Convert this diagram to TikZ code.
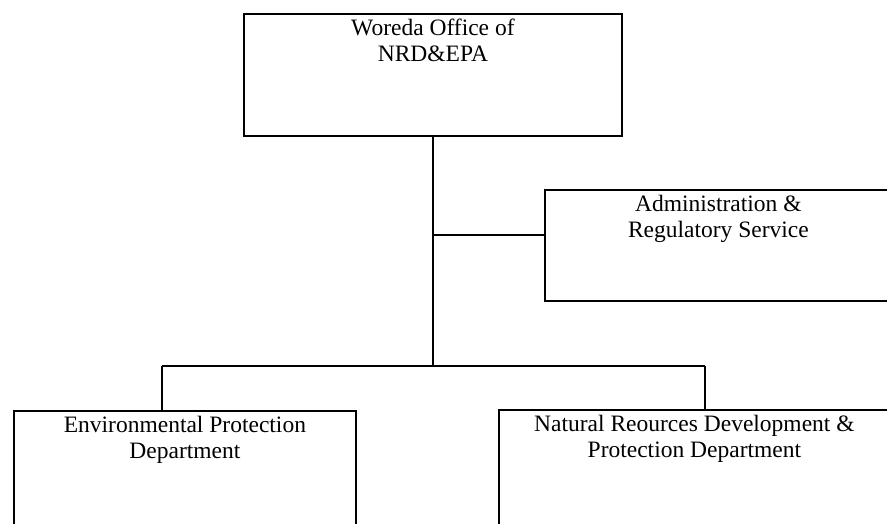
\documentclass[tikz,border=0pt]{standalone}
\usepackage{fontspec}
\setmainfont{Liberation Serif}
\begin{document}
\begin{tikzpicture}[x=1pt,y=-1pt,
  unit/.style={draw=black, line width=1.8pt, inner sep=0pt, anchor=north west},
  caption/.style={anchor=north, align=center, inner sep=6pt,
    font=\fontsize{23.5}{26}\selectfont},
  link/.style={draw=black, line width=1.8pt}]
\useasboundingbox (0,0) rectangle (887,523);
\clip (0,0) rectangle (887,523);
\fill[white] (0,0) rectangle (887,523);

% boxes
\node[unit, minimum width=378pt, minimum height=122pt] (office) at (243,13) {};
\node[unit, minimum width=347pt, minimum height=111pt] (admin) at (544,189) {};
\node[unit, minimum width=342pt, minimum height=140pt] (envdep) at (13,410) {};
\node[unit, minimum width=391pt, minimum height=140pt] (nrdep) at (498,409) {};

% box titles
\node[caption] (officeT) at (office.north) {Woreda Office of\\NRD\&EPA};
\node[caption] (adminT) at (admin.north) {Administration \&\\Regulatory Service};
\node[caption] (envdepT) at (envdep.north) {Environmental Protection\\Department};
\node[caption] (nrdepT) at (nrdep.north) {Natural Reources Development \&\\Protection Department};

% junction points
\coordinate (tee) at (office.south |- 0,235);
\coordinate (hub) at (office.south |- 0,366);
\coordinate (lj) at (162,366);
\coordinate (rj) at (705,366);

% connectors
\draw[link] (office.south) -- (hub);
\draw[link] (tee) -- (tee -| admin.west);
\draw[link] (lj) -- (rj);
\draw[link] (lj) -- (lj |- envdep.north);
\draw[link] (rj) -- (rj |- nrdep.north);
\end{tikzpicture}
\end{document}
